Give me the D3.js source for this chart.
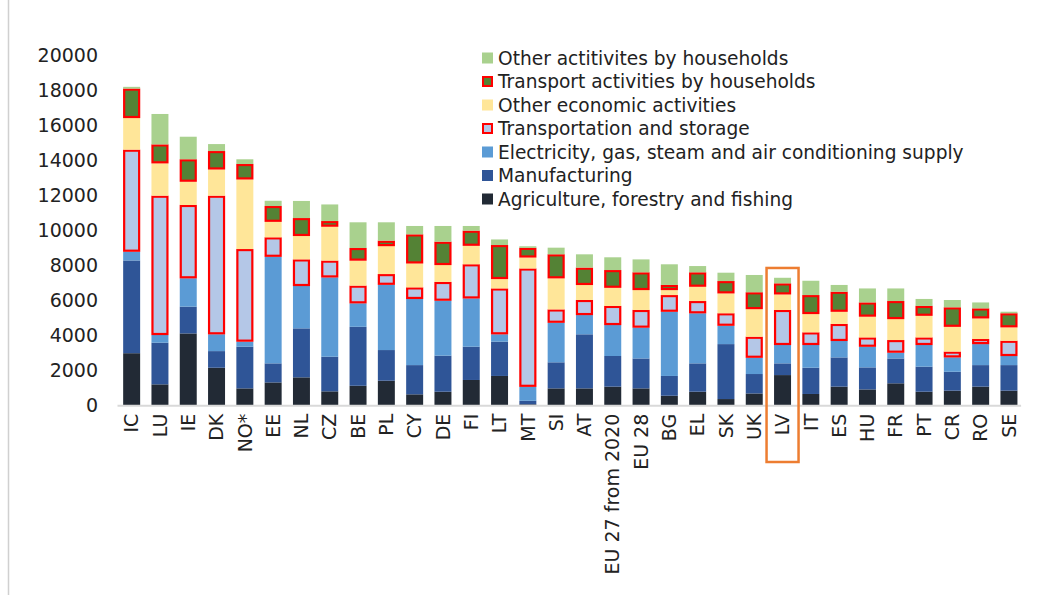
<!DOCTYPE html>
<html>
<head>
<meta charset="utf-8">
<script src="https://cdn.jsdelivr.net/npm/d3@7"></script>
<style>
  html, body { margin: 0; padding: 0; background: #fff; }
  svg { display: block; font-family: "DejaVu Sans", Verdana, sans-serif; }
</style>
</head>
<body>
<svg id="chart" width="1040" height="595"></svg>
<script>
const categories = ["IC","LU","IE","DK","NO*","EE","NL","CZ","BE","PL","CY","DE","FI","LT","MT","SI","AT","EU 27 from 2020","EU 28","BG","EL","SK","UK","LV","IT","ES","HU","FR","PT","CR","RO","SE"];

const agriculture   = [3000,1220,4130,2170, 990,1330,1620, 820,1140,1430, 650, 800,1470,1700,  80, 990, 990,1090, 990, 570, 800, 380, 700,1750, 670,1090, 930,1280, 800, 860,1090, 860];
const manufacturing = [5300,2380,1530, 950,2380,1090,2800,1980,3370,1750,1670,2060,1900,1960, 200,1490,3090,1750,1710,1130,1620,3140,1110, 670,1500,1670,1260,1420,1430,1080,1230,1460];
const electricity   = [ 500, 440,1620, 960, 290,6090,2420,4530,1340,3730,3780,3140,2760, 420, 800,2260,1100,1770,1760,3670,2860,1050, 930,1050,1300, 940,1180, 330,1240, 820,1200, 520];
const transportStorage = [5830,7960,4190,7920,5290,1110,1520, 960,1010, 610, 660,1070,1950,2620,6760, 760, 860,1090,1010, 950, 700, 710,1200,2000, 720, 970, 530, 720, 430, 330, 290, 870];
const otherEconomic = [1810,1850,1330,1500,3980, 890,1340,1940,1430,1600,1370, 970,1060, 540, 630,1780, 860,1040,1140, 290, 820,1140,1580, 890,1050, 700,1190,1200,1240,1420,1180, 770];
const transportHouseholds = [1680,1080,1280,1050, 880, 900,1020, 320, 720, 310,1660,1330, 860,1940, 550,1370, 990,1010,1010, 290, 820, 700, 960, 630,1080,1140, 810,1030, 560,1110, 570, 800];
const otherHouseholds = [ 100,1740,1290, 400, 270, 300, 980, 950,1470,1050, 480, 900, 270, 320,  90, 380, 760, 730, 740,1180, 360, 480, 990, 320, 820, 390, 800, 720, 400, 420, 340,  90];

const yTicks = [0,2000,4000,6000,8000,10000,12000,14000,16000,18000,20000];

const seriesNames = ["Agriculture, forestry and fishing","Manufacturing","Electricity, gas, steam and air conditioning supply","Transportation and storage","Other economic activities","Transport activities by households","Other actitivites by households"];
const seriesData = [agriculture, manufacturing, electricity, transportStorage, otherEconomic, transportHouseholds, otherHouseholds];
const seriesKeys = ["agr","man","ele","tns","oth","thh","ohh"];
const fills = ["#222a35","#2f5597","#5b9bd5","#b4c7e7","#ffe699","#548235","#a9d18e"];
const outlined = [false,false,false,true,false,true,false];
const highlight = "LV";

const rows = categories.map((c, i) => {
  const r = { cat: c };
  seriesKeys.forEach((k, j) => r[k] = seriesData[j][i]);
  return r;
});
const stacked = d3.stack().keys(seriesKeys)(rows);

const svg = d3.select("#chart");

const x = d3.scaleBand().domain(categories).range([117.5, 1023.1]).paddingInner(0.4).paddingOuter(0.2);
const y = d3.scaleLinear().domain([0, 20000]).range([405.7, 55.7]);

// frame line at left
svg.append("line").attr("x1", 8.5).attr("x2", 8.5).attr("y1", 0).attr("y2", 595)
  .attr("stroke", "#d0d0d0").attr("stroke-width", 1.5);

// bars
stacked.forEach((layer, j) => {
  const g = svg.append("g");
  g.selectAll("rect").data(layer).join("rect")
    .attr("x", d => x(d.data.cat) + (outlined[j] ? 1 : 0))
    .attr("width", x.bandwidth() - (outlined[j] ? 2 : 0))
    .attr("y", d => y(d[1]) + (outlined[j] ? 1 : 0))
    .attr("height", d => Math.max(0, y(d[0]) - y(d[1]) - (outlined[j] ? 2 : 0)))
    .attr("fill", fills[j])
    .attr("stroke", outlined[j] ? "#ff0000" : "none")
    .attr("stroke-width", outlined[j] ? 2.2 : 0);
});

// x axis
const xAxis = svg.append("g").attr("transform", `translate(0,${y(0)})`)
  .call(d3.axisBottom(x).tickSize(0).tickPadding(0));
xAxis.select(".domain").attr("stroke", "#d9d9d9").attr("stroke-width", 2)
  .attr("d", `M${x.range()[0]},0H${x.range()[1] - 2}`);
xAxis.selectAll(".tick text")
  .attr("transform", "rotate(-90)")
  .attr("x", -8).attr("y", 0).attr("dy", "0.35em")
  .attr("text-anchor", "end")
  .attr("font-size", 19).attr("fill", "#222")
  .attr("font-family", "'DejaVu Sans', Verdana, sans-serif");

// y axis
const yAxis = svg.append("g").attr("transform", `translate(98,0)`)
  .call(d3.axisLeft(y).tickValues(yTicks).tickSize(0).tickPadding(0).tickFormat(d3.format("d")));
yAxis.select(".domain").remove();
yAxis.selectAll(".tick text")
  .attr("font-size", 19).attr("fill", "#222")
  .attr("font-family", "'DejaVu Sans', Verdana, sans-serif");

// highlight box around LV
const hx = x(highlight) + x.bandwidth() / 2;
svg.append("rect")
  .attr("x", hx - 16).attr("width", 32)
  .attr("y", y(7870)).attr("height", 462 - y(7870))
  .attr("fill", "none").attr("stroke", "#ed7d31").attr("stroke-width", 2.5);

// legend (top to bottom: reverse series order)
const legend = svg.append("g").attr("transform", "translate(482,58)");
const legendOrder = d3.range(seriesNames.length).reverse();
legendOrder.forEach((j, i) => {
  const g = legend.append("g").attr("transform", `translate(0,${i * 23.5})`);
  g.append("rect").attr("x", outlined[j] ? 1 : 0).attr("y", outlined[j] ? -4.5 : -5.5)
    .attr("width", outlined[j] ? 9 : 11).attr("height", outlined[j] ? 9 : 11)
    .attr("fill", fills[j])
    .attr("stroke", outlined[j] ? "#ff0000" : "none").attr("stroke-width", outlined[j] ? 2 : 0);
  g.append("text").attr("x", 16).attr("y", 0).attr("dy", "0.35em")
    .attr("font-size", 18.6).attr("fill", "#222").text(seriesNames[j]);
});
</script>
</body>
</html>
